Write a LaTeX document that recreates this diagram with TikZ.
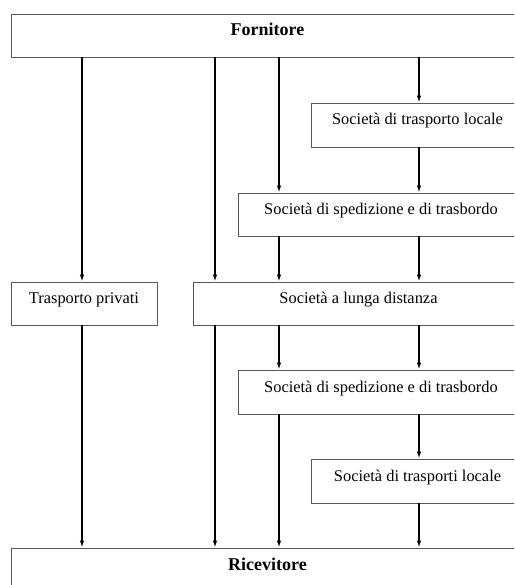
\documentclass[tikz,border=0pt]{standalone}
\usepackage{fontspec}
\setmainfont{Liberation Serif}
\usetikzlibrary{arrows.meta}

\tikzset{
    boxnode/.style={draw=black!65, line width=0.8pt, inner sep=0pt,
        font=\fontsize{16.4}{18}\selectfont, text height=9pt, text depth=9pt},
    endnode/.style={boxnode, font=\fontsize{18}{20}\selectfont\bfseries},
    flow/.style={line width=1.4pt, -{Latex[length=7pt,width=4.5pt]}}
}

\begin{document}
\begin{tikzpicture}[x=1pt, y=-1pt]
    % Fix the page size and cut off the boxes running past the right edge
    \useasboundingbox (0,0) rectangle (514,585);
    \clip (0,0) rectangle (514,585);

    % Columns of the connectors
    \coordinate (c1) at (82,0);
    \coordinate (c2) at (215,0);
    \coordinate (c3) at (279,0);
    \coordinate (c4) at (419,0);

    % Boxes (positions at their centres)
    \node[endnode, minimum width=513pt, minimum height=43pt] (forn) at (267.5,35.5) {Fornitore};
    \node[boxnode, minimum width=213pt, minimum height=44pt] (locA) at (417.5,125) {Società di trasporto locale};
    \node[boxnode, minimum width=286pt, minimum height=43pt] (spedA) at (381,214.5) {Società di spedizione e di trasbordo};
    \node[boxnode, minimum width=146pt, minimum height=43pt] (priv) at (84,303.5) {Trasporto privati};
    \node[boxnode, minimum width=331pt, minimum height=43pt] (lunga) at (358.5,303.5) {Società a lunga distanza};
    \node[boxnode, minimum width=286pt, minimum height=44pt] (spedB) at (381,392) {Società di spedizione e di trasbordo};
    \node[boxnode, minimum width=213pt, minimum height=44pt] (locB) at (417.5,481) {Società di trasporti locale};
    \node[endnode, minimum width=513pt, minimum height=44pt] (ric) at (267.5,570) {Ricevitore};

    % From the supplier
    \draw[flow] (forn.south -| c1) -- (priv.north -| c1);
    \draw[flow] (forn.south -| c2) -- (lunga.north -| c2);
    \draw[flow] (forn.south -| c3) -- (spedA.north -| c3);
    \draw[flow] (forn.south -| c4) -- (locA.north -| c4);

    % Down to the long distance company
    \draw[flow] (locA.south -| c4) -- (spedA.north -| c4);
    \draw[flow] (spedA.south -| c3) -- (lunga.north -| c3);
    \draw[flow] (spedA.south -| c4) -- (lunga.north -| c4);

    % Down to the receiver
    \draw[flow] (priv.south -| c1) -- (ric.north -| c1);
    \draw[flow] (lunga.south -| c2) -- (ric.north -| c2);
    \draw[flow] (lunga.south -| c3) -- (spedB.north -| c3);
    \draw[flow] (lunga.south -| c4) -- (spedB.north -| c4);
    \draw[flow] (spedB.south -| c3) -- (ric.north -| c3);
    \draw[flow] (spedB.south -| c4) -- (locB.north -| c4);
    \draw[flow] (locB.south -| c4) -- (ric.north -| c4);
\end{tikzpicture}
\end{document}
